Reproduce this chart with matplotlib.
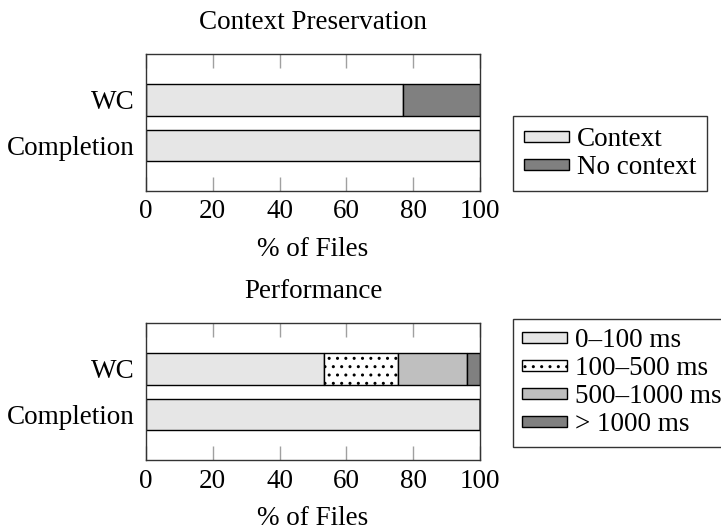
import matplotlib
matplotlib.use("Agg")
import matplotlib.pyplot as plt
import numpy as np

plt.rcParams['font.family'] = ['Liberation Serif', 'DejaVu Serif']
plt.rcParams['hatch.linewidth'] = 1.0
FS = 19.5

categories = ["Completion", "WC"]

ctx_labels = ["Context", "No context"]
ctx_values = {
    "Context": [100.0, 77.0],
    "No context": [0.0, 23.0],
}
ctx_colors = ["#e6e6e6", "#808080"]
ctx_hatches = [None, None]

perf_labels = ["0–100 ms", "100–500 ms", "500–1000 ms", "> 1000 ms"]
perf_values = {
    "0–100 ms": [100.0, 53.4],
    "100–500 ms": [0.0, 21.9],
    "500–1000 ms": [0.0, 20.9],
    "> 1000 ms": [0.0, 3.8],
}
perf_colors = ["#e6e6e6", "white", "#bfbfbf", "#808080"]
perf_hatches = [None, "..", None, None]

xticks = [0, 20, 40, 60, 80, 100]
xlabel = "% of Files"

fig = plt.figure(figsize=(7.21, 5.30), dpi=100)
ax1 = fig.add_axes([146/721, 1-191/530, 334/721, 136.7/530])
ax2 = fig.add_axes([146/721, 1-460.3/530, 334/721, 137/530])


def draw(ax, labels, values, colors, hatches, title, legend_top, bpad):
    y = np.arange(len(categories))
    left = np.zeros(len(categories))
    handles = []
    for lab, col, h in zip(labels, colors, hatches):
        vals = np.array(values[lab])
        bars = ax.barh(y, vals, left=left, height=0.69, color=col,
                       edgecolor="black", linewidth=1.0, hatch=h, label=lab)
        handles.append(bars)
        left = left + vals
    ax.set_xlim(0, 100)
    ax.set_ylim(-1, 2)
    ax.set_xticks(xticks)
    ax.set_xticklabels([str(t) for t in xticks], fontsize=FS)
    ax.set_yticks(y)
    ax.set_yticklabels(categories, fontsize=FS)
    ax.tick_params(axis='x', direction='in', length=10, width=1, color='#a0a0a0',
                   top=True, bottom=True, pad=6)
    ax.tick_params(axis='y', length=0, pad=8)
    for s in ax.spines.values():
        s.set_linewidth(1.0)
        s.set_color('#333333')
    ax.set_xlabel(xlabel, fontsize=FS, labelpad=9)
    ax.set_title(title, fontsize=FS, pad=18)
    leg = fig.legend(handles=handles, labels=labels, loc='upper left',
                     bbox_to_anchor=(513/721, legend_top), fontsize=FS,
                     frameon=True, fancybox=False, edgecolor='#333333',
                     framealpha=1, handlelength=1.63, handleheight=0.25,
                     handletextpad=0.3, labelspacing=0.11, borderpad=bpad,
                     borderaxespad=0)
    leg.get_frame().set_linewidth(1.0)


draw(ax1, ctx_labels, ctx_values, ctx_colors, ctx_hatches,
     "Context Preservation", 1-115.7/530, 0.42)
draw(ax2, perf_labels, perf_values, perf_colors, perf_hatches,
     "Performance", 1-319/530, 0.35)

fig.savefig("out.png", dpi=100)
